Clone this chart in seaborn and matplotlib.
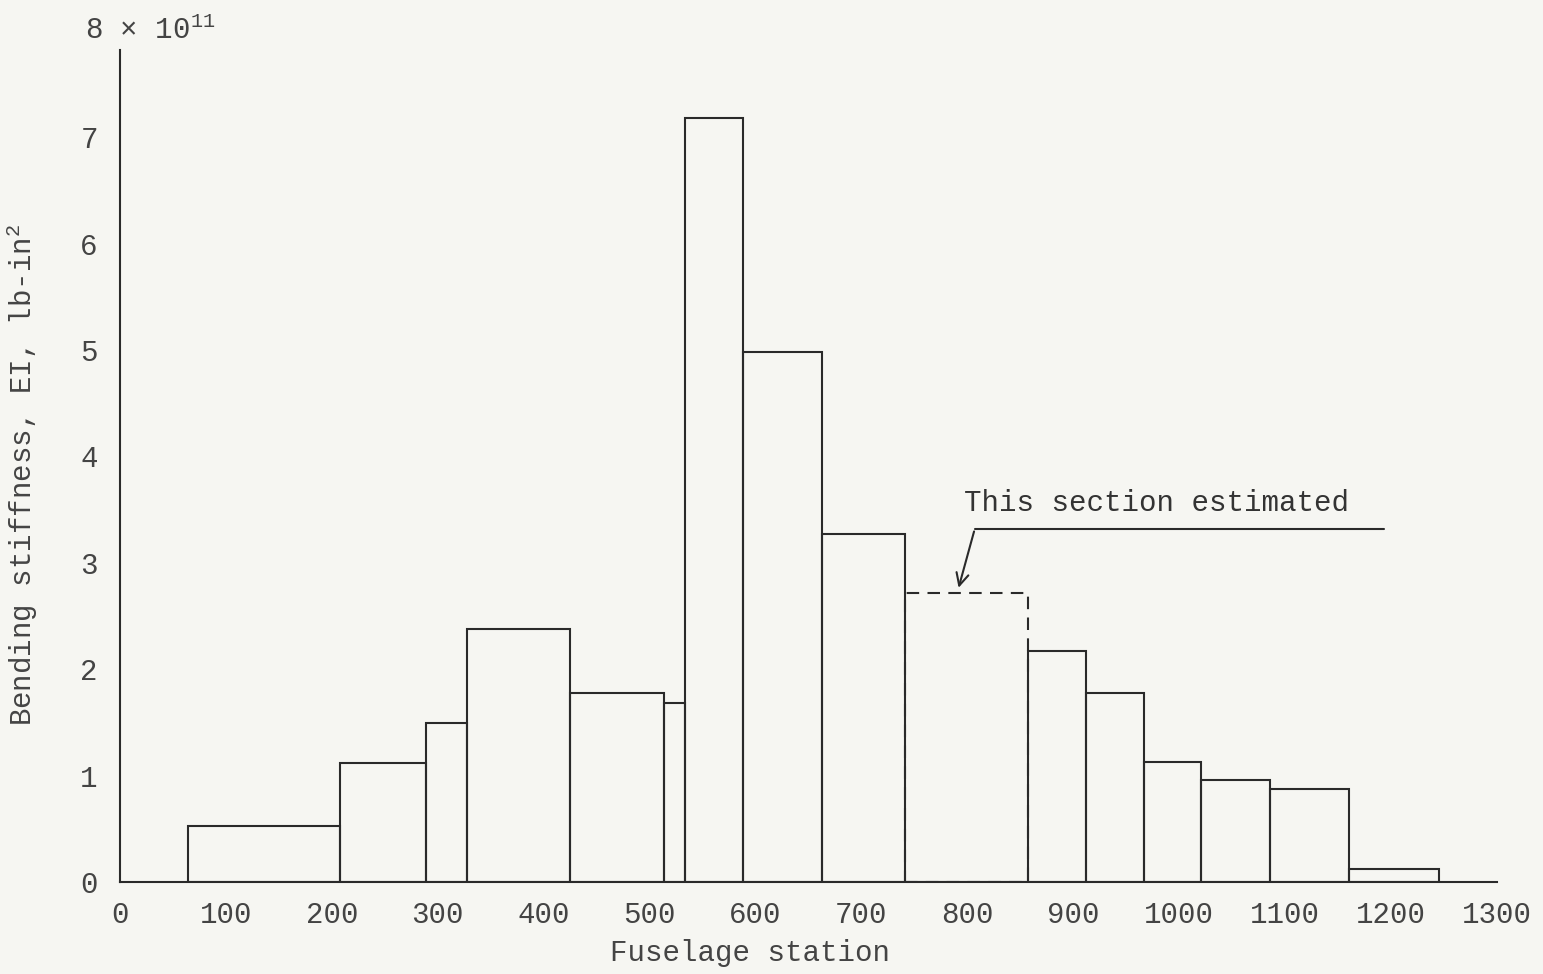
import matplotlib
matplotlib.use("Agg")
import matplotlib.pyplot as plt
import seaborn as sns
import numpy as np

# Station boundaries (fuselage station) and bending stiffness (x 1e11 lb-in^2)
edges = [64, 208, 289, 328, 425, 514, 533, 588, 663, 741, 857, 912, 967, 1021, 1086, 1160, 1245]
stiffness = [0.53, 1.12, 1.49, 2.38, 1.78, 1.68, 7.18, 4.98, 3.27, 2.72, 2.17, 1.78, 1.13, 0.96, 0.87, 0.12]
estimated = [False, False, False, False, False, False, False, False, False, True,
             False, False, False, False, False, False]
xticks = [0, 100, 200, 300, 400, 500, 600, 700, 800, 900, 1000, 1100, 1200, 1300]
yticks = [0, 1, 2, 3, 4, 5, 6, 7]

sns.set_theme(style="white")
plt.rcParams['font.family'] = ['Liberation Mono', 'DejaVu Sans Mono']
plt.rcParams['mathtext.fontset'] = 'custom'
plt.rcParams['mathtext.rm'] = 'Liberation Mono'
plt.rcParams['mathtext.it'] = 'Liberation Mono'
plt.rcParams['mathtext.default'] = 'regular'
paper = "#f6f6f2"
ink = "#2a2a2a"
txt = "#444444"

fig = plt.figure(figsize=(15.43, 9.74), dpi=100, facecolor=paper)
ax = fig.add_axes([120/1543, 1 - 882/974, (1497-120)/1543, (882-50)/974])
ax.set_facecolor(paper)

mids = [(edges[i] + edges[i+1]) / 2 for i in range(len(stiffness))]

# estimated section (dashed) drawn first
for i, est in enumerate(estimated):
    if est:
        sns.histplot(x=[mids[i]], weights=[stiffness[i]], bins=[edges[i], edges[i+1]],
                     element="bars", fill=False, color=ink, linewidth=1.5,
                     linestyle=(0, (6, 4)), ax=ax)

solid_x = [m for m, e in zip(mids, estimated) if not e]
solid_w = [s for s, e in zip(stiffness, estimated) if not e]
sns.histplot(x=solid_x, weights=solid_w, bins=edges, element="bars", fill=False,
             color=ink, linewidth=1.5, ax=ax)

ax.set_xlim(0, 1300)
ax.set_ylim(0, (882-50)/106.4)
ax.set_xticks(xticks)
ax.set_xticklabels([str(t) for t in xticks])
ax.set_yticks(yticks)
ax.set_yticklabels([str(t) for t in yticks])
ax.tick_params(axis='both', length=0, labelsize=21, colors=txt)
ax.tick_params(axis='x', pad=14)
ax.tick_params(axis='y', pad=16)

for s in ["top", "right"]:
    ax.spines[s].set_visible(False)
for s in ["left", "bottom"]:
    ax.spines[s].set_color(ink)
    ax.spines[s].set_linewidth(1.5)

ax.set_xlabel("Fuselage station", fontsize=21, color=txt)
ax.xaxis.set_label_coords((750-120)/1377, -0.068)
ax.set_ylabel("Bending stiffness, EI, lb-in$^2$", fontsize=21, color=txt)
ax.yaxis.set_label_coords(-0.058, 0.49)

fig.text(85/1543, 1 - 30/974, "8 × 10$^{11}$", fontsize=21, color=txt,
         ha="left", va="center")

# annotation
ax.text(797, 3.56, "This section estimated", fontsize=21, color="#333333",
        ha="left", va="center")
ax.plot([1193, 807], [3.32, 3.32], color=ink, linewidth=1.5)
ax.annotate("", xy=(791, 2.74), xytext=(807, 3.32),
            arrowprops=dict(arrowstyle="->", color=ink, lw=1.5,
                            mutation_scale=22))

fig.savefig("out.png", dpi=100, facecolor=paper)
